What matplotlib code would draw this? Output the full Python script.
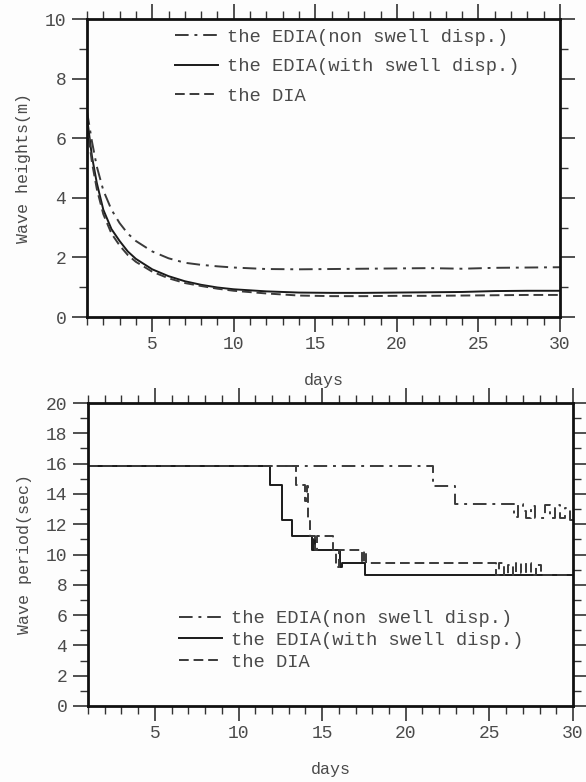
import matplotlib
matplotlib.use("Agg")
import matplotlib.pyplot as plt
from matplotlib.ticker import MultipleLocator, FixedLocator

# ---------------- data ----------------
labels = ["the EDIA(non swell disp.)", "the EDIA(with swell disp.)", "the DIA"]

# top panel: significant wave heights (m)
days_h = [1, 1.3, 1.6, 2, 2.5, 3, 3.5, 4, 5, 6, 7, 8, 9, 10, 12, 14, 16, 18, 20, 22, 24, 26, 28, 30]
h_edia_non = [6.9, 5.9, 5.05, 4.25, 3.6, 3.15, 2.8, 2.55, 2.2, 1.97, 1.82, 1.75, 1.70, 1.66, 1.61, 1.60,
              1.61, 1.62, 1.63, 1.64, 1.62, 1.65, 1.66, 1.67]
h_edia_swell = [6.7, 5.4, 4.5, 3.6, 2.95, 2.55, 2.2, 1.95, 1.6, 1.37, 1.2, 1.08, 0.99, 0.93, 0.86, 0.82,
                0.81, 0.81, 0.82, 0.83, 0.84, 0.87, 0.88, 0.88]
h_dia = [6.5, 5.2, 4.3, 3.45, 2.8, 2.4, 2.08, 1.85, 1.52, 1.30, 1.14, 1.04, 0.95, 0.88, 0.79, 0.72,
         0.70, 0.70, 0.71, 0.71, 0.72, 0.73, 0.74, 0.74]

# bottom panel: wave period (sec), step series
t_non_x = [1, 21.6, 22.95, 26.5, 26.7, 27.0, 27.2, 27.5, 27.7, 28.0, 28.3, 28.6, 28.9, 29.2, 29.5, 29.8, 30]
t_non_y = [15.85, 14.52, 13.33, 12.5, 13.33, 12.9, 12.4, 13.2, 12.4, 12.4, 13.3, 12.4, 13.3, 12.4, 13.1, 12.3, 12.3]

t_swell_x = [1, 11.88, 12.58, 13.18, 14.38, 14.5, 14.6, 16.07, 16.2, 17.57, 30]
t_swell_y = [15.85, 14.59, 12.28, 11.22, 10.3, 11.0, 10.3, 9.2, 9.46, 8.65, 8.65]

t_dia_x = [1, 13.45, 13.95, 14.1, 14.15, 14.3, 14.6, 14.7, 15.65, 15.85, 16.0, 17.4, 17.5, 17.6,
           25.4, 25.6, 25.9, 26.1, 26.4, 26.6, 26.9, 27.2, 27.5, 27.8, 28.1, 28.5, 30]
t_dia_y = [15.85, 14.6, 13.5, 14.5, 12.3, 11.25, 10.3, 11.25, 10.3, 9.2, 10.3, 9.46, 10.2, 9.46,
           8.65, 9.46, 8.65, 9.3, 8.65, 9.46, 8.8, 9.46, 8.65, 9.3, 8.65, 8.65, 8.65]

# ---------------- style ----------------
FONT = ["Liberation Mono", "DejaVu Sans Mono"]
TXT = "#4a4a4a"
plt.rcParams["font.family"] = FONT

styles = [
    dict(color="#3a3a3a", lw=1.4, linestyle=(0, (7, 3, 1.5, 3))),
    dict(color="#1a1a1a", lw=1.4, linestyle="-"),
    dict(color="#3a3a3a", lw=1.4, linestyle=(0, (5, 2.5))),
]

fig = plt.figure(figsize=(5.86, 7.82), dpi=100, facecolor="#fdfdfd")

ax1 = fig.add_axes([87 / 586, 1 - 317 / 782, 473 / 586, 298 / 782])
ax2 = fig.add_axes([88 / 586, 1 - 706 / 782, 485 / 586, 303 / 782])


def style_axes(ax, ymax, ylabel):
    ax.set_facecolor("#fdfdfd")
    ax.set_xlim(1, 30)
    ax.set_ylim(0, ymax)
    ax.xaxis.set_major_locator(FixedLocator([5, 10, 15, 20, 25, 30]))
    ax.xaxis.set_minor_locator(MultipleLocator(1))
    ax.yaxis.set_major_locator(MultipleLocator(2))
    ax.yaxis.set_minor_locator(MultipleLocator(1))
    ax.tick_params(which="both", direction="out", top=True, right=True,
                   colors="#333333", labelcolor=TXT, labelsize=13)
    ax.tick_params(which="major", length=11, width=1.2, pad=4)
    ax.tick_params(which="minor", length=6, width=1.0)
    ax.tick_params(axis="x", which="major", pad=3)
    for s in ax.spines.values():
        s.set_linewidth(2.0)
        s.set_color("#111111")
    ax.set_xlabel("days", fontsize=12, color=TXT, labelpad=14)
    ax.set_ylabel(ylabel, fontsize=12, color=TXT, labelpad=10)


style_axes(ax1, 10, "Wave heights(m)")
style_axes(ax2, 20, "Wave period(sec)")

series_h = [h_edia_non, h_edia_swell, h_dia]
for vals, lab, st in zip(series_h, labels, styles):
    ax1.plot(days_h, vals, label=lab, **st)

series_t = [(t_non_x, t_non_y), (t_swell_x, t_swell_y), (t_dia_x, t_dia_y)]
for (xs, ys), lab, st in zip(series_t, labels, styles):
    ax2.plot(xs, ys, drawstyle="steps-post", label=lab, **st)

leg1 = ax1.legend(loc="upper left", bbox_to_anchor=(0.186, 0.968), frameon=False,
                  fontsize=13.5, handlelength=2.3, handletextpad=0.45,
                  labelspacing=0.67, borderaxespad=0, borderpad=0)
leg2 = ax2.legend(loc="upper left", bbox_to_anchor=(0.188, 0.317), frameon=False,
                  fontsize=13.5, handlelength=2.3, handletextpad=0.45,
                  labelspacing=0.245, borderaxespad=0, borderpad=0)
for leg in (leg1, leg2):
    for t in leg.get_texts():
        t.set_color(TXT)

fig.savefig("out.png", dpi=100, facecolor=fig.get_facecolor())
